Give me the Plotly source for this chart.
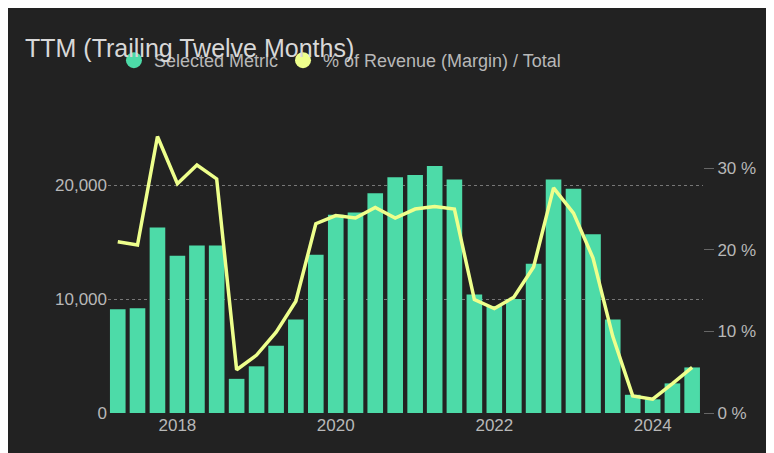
import pandas as pd
import plotly.graph_objects as go

# quarterly TTM data
quarters = pd.date_range("2017-04-01", periods=30, freq="QS")
metric = [9100, 9200, 16300, 13800, 14700, 14700, 3000, 4100, 5900, 8200,
          13900, 17400, 17600, 19300, 20700, 20900, 21700, 20500, 10400, 9400,
          10000, 13100, 20500, 19700, 15700, 8200, 1600, 1200, 2600, 4000]
margin_pct = [21.0, 20.6, 33.9, 28.1, 30.4, 28.7, 5.3, 7.1, 9.9, 13.7,
              23.2, 24.2, 23.9, 25.2, 23.9, 25.0, 25.3, 25.0, 13.9, 12.8,
              14.2, 17.9, 27.6, 24.5, 19.0, 9.4, 2.1, 1.7, 3.6, 5.6]

BAR = "#4ddba8"
LINE = "#eeff8c"
TXT = "#b8b8b8"

fig = go.Figure()
fig.add_trace(go.Bar(x=quarters, y=metric, name="Selected Metric",
                     marker=dict(color=BAR, line=dict(width=0)),
                     width=1000 * 3600 * 24 * 72, showlegend=False))
fig.add_trace(go.Scatter(x=quarters, y=margin_pct, name="% of Revenue (Margin) / Total",
                         yaxis="y2", mode="lines", showlegend=False,
                         line=dict(color=LINE, width=3.5)))
# legend entries with round markers
for name, col in [("Selected Metric", BAR), ("% of Revenue (Margin) / Total", LINE)]:
    fig.add_trace(go.Scatter(x=[None], y=[None], mode="markers", name=name,
                             marker=dict(color=col, size=16, symbol="circle")))

fig.update_layout(
    width=774, height=453,
    paper_bgcolor="#222222", plot_bgcolor="#222222",
    font=dict(family="Liberation Sans, Arial, sans-serif", color=TXT, size=17),
    title=dict(text="TTM (Trailing Twelve Months)", x=0.022, y=0.93,
               font=dict(size=25, color="#d8d8d8")),
    legend=dict(orientation="h", x=0.01, y=1.33, xanchor="left",
                font=dict(size=18, color=TXT), itemwidth=30,
                tracegroupgap=0),
    margin=dict(l=100, r=79, t=126, b=48),
    bargap=0.15,
    xaxis=dict(showgrid=False, tickformat="%Y", dtick="M24",
               tick0="2018-01-01", ticks="", range=["2017-02-15", "2024-08-20"],
               tickfont=dict(size=17, color=TXT)),
    yaxis=dict(range=[0, 24500], tickvals=[0, 10000, 20000],
               ticktext=["0", "10,000", "20,000"],
               gridcolor="#777777", griddash="dot", zeroline=False,
               tickfont=dict(size=17, color=TXT)),
    yaxis2=dict(overlaying="y", side="right", range=[0, 34.2],
                tickvals=[0, 10, 20, 30], ticktext=["0 %", "10 %", "20 %", "30 %"],
                showgrid=False, zeroline=False, ticks="outside", ticklen=10,
                tickcolor="#666666",
                tickfont=dict(size=17, color=TXT)),
)

fig.write_html("out.html")
